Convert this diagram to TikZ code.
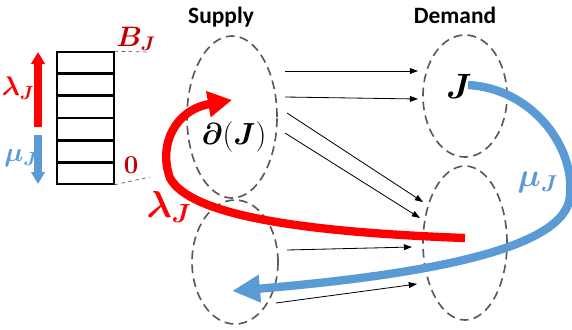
\RequirePackage{fix-cm}
\documentclass[tikz,border=0pt]{standalone}
\usepackage{fontspec}
\setsansfont{Carlito}
\usepackage{bm}
\usetikzlibrary{shapes,arrows.meta,positioning,calc}
\definecolor{flowred}{RGB}{255,0,0}
\definecolor{flowblue}{RGB}{91,155,213}
\definecolor{darkred}{RGB}{192,0,0}
\definecolor{setgray}{RGB}{89,89,89}

\begin{document}
\begin{tikzpicture}[x=0.03cm, y=-0.03cm,
    setnode/.style={draw=setgray, ellipse, dash pattern=on 7.5pt off 4.5pt, line width=1.4pt, inner sep=0pt},
    title/.style={font=\fontsize{20}{24}\selectfont\sffamily\bfseries},
    edge/.style={-{Triangle[length=7pt,width=5pt]}, line width=0.7pt},
    cell/.style={draw, line width=1.2pt, minimum width=1.71cm, minimum height=0.625cm, inner sep=0pt},
    biglabel/.style={font=\fontsize{30}{34}\selectfont, inner sep=0pt},
    smalllabel/.style={font=\fontsize{23}{27}\selectfont, inner sep=0pt}]
\useasboundingbox (0,0) rectangle (572,329);

% Supply and Demand sets
\node[title] (supply-title) at (221,17) {Supply};
\node[title] (demand-title) at (455,15) {Demand};
\node[setnode, minimum width=2.7cm, minimum height=4.86cm] (sup1) at (232,117) {};
\node[setnode, minimum width=2.58cm, minimum height=3.72cm] (sup2) at (235,262) {};
\node[setnode, minimum width=2.52cm, minimum height=3.66cm] (dem1) at (465,96) {};
\node[setnode, minimum width=2.52cm, minimum height=4.62cm] (dem2) at (465,243) {};
\node[biglabel, font=\fontsize{26}{30}\selectfont] (boundary) at (234,137) {$\bm{\partial}(\bm{J})$};
\node[biglabel] (jnode) at (459,86) {$\bm{J}$};

% Edges from supply to demand
\draw[edge] ($(sup1.center)+(53,-46)$) -- ($(dem1.center)+(-47,-25)$);
\draw[edge] ($(sup1.center)+(53,-20)$) -- ($(dem1.center)+(-47,3)$);
\draw[edge] ($(sup1.center)+(55,-4)$) -- ($(dem2.center)+(-42,-41)$);
\draw[edge] ($(sup1.center)+(53,16)$) -- ($(dem2.center)+(-45,-25)$);
\draw[edge] ($(sup2.center)+(52,-12)$) -- ($(dem2.center)+(-53,4)$);
\draw[edge] ($(sup2.center)+(41,41)$) -- ($(dem2.center)+(-48,41)$);

% Flows
\draw[flowred, line width=0.25cm, -{Triangle[length=0.72cm,width=0.75cm]}]
    ($(dem2.center)+(0,-5)$) .. controls (300,232) and (190,215) .. (170,178)
    .. controls (158,145) and (175,110) .. ($(sup1.center)+(0,-17)$);
\draw[flowblue, line width=0.25cm, -{Triangle[length=0.84cm,width=0.78cm]}]
    ($(dem1.center)+(3,-11)$) .. controls (530,88) and (575,145) .. (570,195)
    .. controls (568,250) and (420,275) .. ($(sup2.center)+(-3,29)$);
\node[biglabel, font=\fontsize{32}{36}\selectfont, text=flowred] (lambda-flow) at (169,207) {$\bm{\lambda_J}$};
\node[biglabel, font=\fontsize{28}{32}\selectfont, text=flowblue] (mu-flow) at (538,182) {$\bm{\mu_J}$};

% Buffer
\node[cell] (cell1) at (85.5,62.4) {};
\node[cell, below=0pt of cell1] (cell2) {};
\node[cell, below=0pt of cell2] (cell3) {};
\node[cell, below=0pt of cell3] (cell4) {};
\node[cell, below=0pt of cell4] (cell5) {};
\node[cell, below=0pt of cell5] (cell6) {};
\coordinate (btop) at (150,52);
\coordinate (bbot) at (150,177);
\draw[setgray, dashed, line width=0.6pt] (cell1.north east) -- (btop);
\draw[setgray, dashed, line width=0.6pt] (cell6.south east) -- (bbot);
\node[smalllabel, text=darkred, font=\fontsize{24}{28}\selectfont] (bj) at (136,39) {$\bm{B_J}$};
\node[smalllabel, text=darkred, font=\fontsize{22}{26}\selectfont] (zero) at (131,165) {$\bm{0}$};

\coordinate (lam-base) at (38,127);
\coordinate (lam-tip) at (38,52);
\coordinate (mu-base) at (38,135);
\coordinate (mu-tip) at (38,184);
\draw[flowred, line width=0.24cm, -{Triangle[length=0.36cm,width=0.4cm]}] (lam-base) -- (lam-tip);
\draw[flowblue, line width=0.26cm, -{Triangle[length=0.36cm,width=0.4cm]}] (mu-base) -- (mu-tip);
\node[smalllabel, text=flowred] (lambda-buf) at (18,88) {$\bm{\lambda_J}$};
\node[smalllabel, text=flowblue] (mu-buf) at (21,158) {$\bm{\mu_J}$};

\end{tikzpicture}
\end{document}
